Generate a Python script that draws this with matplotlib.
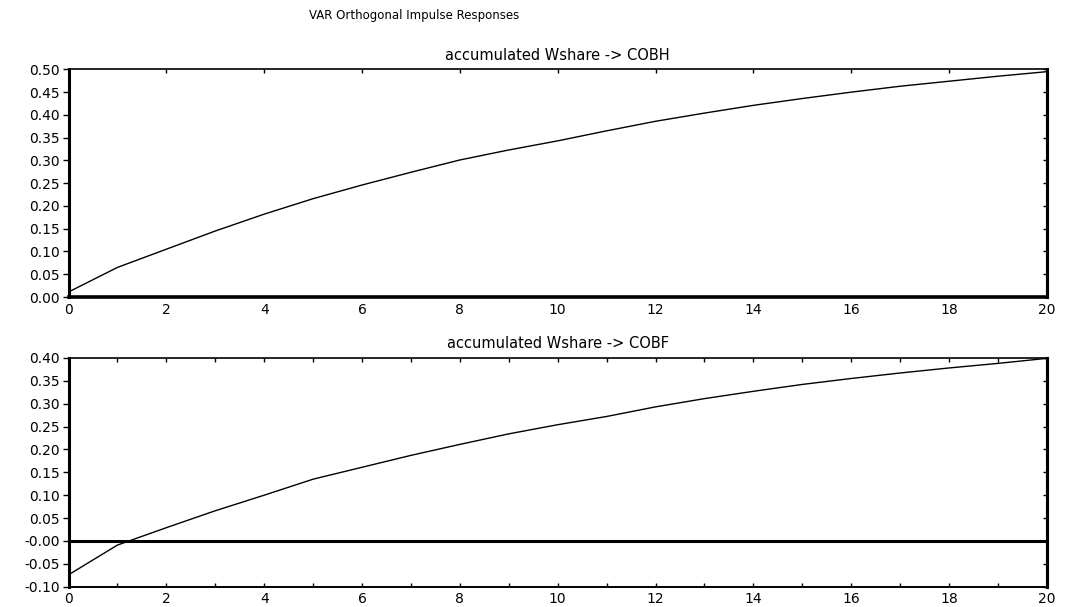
import matplotlib
matplotlib.use("Agg")
import matplotlib.pyplot as plt
import numpy as np

# impulse response horizon
steps = list(range(21))

# accumulated Wshare -> COBH
cobh = [0.011, 0.065, 0.105, 0.145, 0.182, 0.216, 0.246, 0.274, 0.301, 0.323, 0.343,
        0.365, 0.386, 0.404, 0.421, 0.436, 0.450, 0.463, 0.474, 0.485, 0.495]

# accumulated Wshare -> COBF
cobf = [-0.074, -0.009, 0.029, 0.066, 0.100, 0.135, 0.161, 0.187, 0.211, 0.234, 0.254,
        0.272, 0.293, 0.311, 0.327, 0.342, 0.355, 0.367, 0.378, 0.388, 0.399]

top_yticks = [0.00, 0.05, 0.10, 0.15, 0.20, 0.25, 0.30, 0.35, 0.40, 0.45, 0.50]
top_ylabels = ["0.00", "0.05", "0.10", "0.15", "0.20", "0.25", "0.30", "0.35", "0.40", "0.45", "0.50"]
bot_yticks = [-0.10, -0.05, 0.00, 0.05, 0.10, 0.15, 0.20, 0.25, 0.30, 0.35, 0.40]
bot_ylabels = ["-0.10", "-0.05", "-0.00", "0.05", "0.10", "0.15", "0.20", "0.25", "0.30", "0.35", "0.40"]
xticks = list(range(0, 21, 2))

titles = ["accumulated Wshare -> COBH", "accumulated Wshare -> COBF"]

fig = plt.figure(figsize=(10.67, 6.07), dpi=100)
fig.text(0.388, 0.975, "VAR Orthogonal Impulse Responses", ha="center", va="center", fontsize=8.5)

ax1 = fig.add_axes([0.0642, 0.5107, 0.917, 0.375])
ax2 = fig.add_axes([0.0642, 0.0334, 0.917, 0.377])


def style_panel(ax, y, yticks, ylabels, title, lower):
    ax.plot(steps, y, color="black", lw=1.0)
    ax.axhline(0, color="black", lw=2.2)
    ax.set_xlim(0, 20)
    ax.set_ylim(yticks[0], yticks[-1])
    ax.set_yticks(yticks)
    ax.set_yticklabels(ylabels)
    ax.set_xticks(xticks)
    if lower:
        ax.set_xticks(range(21), minor=True)
    ax.set_title(title, fontsize=10.5, pad=7)
    for side in ["left", "right"]:
        ax.spines[side].set_linewidth(2.2)
    ax.spines["top"].set_linewidth(1.2)
    ax.spines["bottom"].set_linewidth(1.4 if lower else 2.6)
    ax.tick_params(axis="y", which="major", direction="out", length=4, width=1,
                   labelsize=10, left=True, right=False, pad=2)
    ax.tick_params(axis="x", which="both", direction="in", length=3, width=1,
                   top=True, bottom=lower, labelsize=10, pad=4)
    # small inward marks on the right edge
    sec = ax.secondary_yaxis("right")
    sec.set_yticks(yticks)
    sec.tick_params(direction="in", length=3, width=1, labelright=False)
    sec.spines["right"].set_linewidth(2.2)


style_panel(ax1, cobh, top_yticks, top_ylabels, titles[0], False)
style_panel(ax2, cobf, bot_yticks, bot_ylabels, titles[1], True)

fig.savefig("out.png", dpi=100)
